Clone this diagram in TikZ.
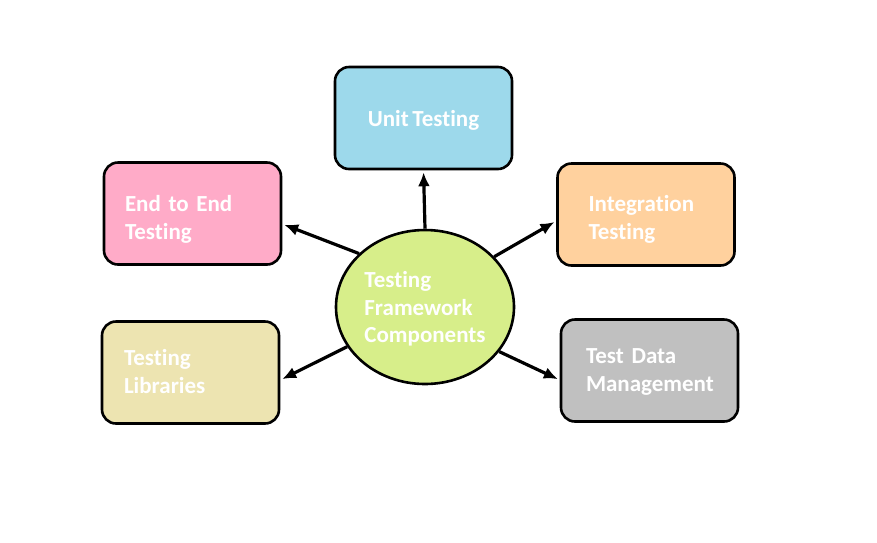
\documentclass[tikz,border=0pt]{standalone}
\usepackage{fontspec}
\setmainfont{Carlito}[Ligatures={NoCommon}, WordSpace=0.7]
\usetikzlibrary{arrows.meta,shapes.geometric}
\definecolor{cunit}{HTML}{9DD9EB}
\definecolor{cend}{HTML}{FFABC8}
\definecolor{cint}{HTML}{FFD19E}
\definecolor{clib}{HTML}{EDE4B1}
\definecolor{cdata}{HTML}{C0C0C0}
\definecolor{ccen}{HTML}{D7EE8A}
\tikzset{
  compbox/.style={draw=black, line width=2.6pt, rounded corners=14pt,
    minimum width=177pt, minimum height=102pt, inner ysep=0pt, text depth=20pt,
    font=\fontsize{23}{28}\selectfont\bfseries, text=white, align=left},
  centre/.style={ellipse, draw=black, line width=2.6pt, fill=ccen,
    minimum width=178pt, minimum height=154pt, inner sep=0pt, text depth=0pt,
    font=\fontsize{23}{27.5}\selectfont\bfseries, text=white, align=left},
  conn/.style={line width=3.2pt, -{Latex[length=14pt,width=12pt]}, shorten >=2pt}
}
\begin{document}
\begin{tikzpicture}[x=1pt,y=-1pt]
\useasboundingbox (0,0) rectangle (877,542);
\node[centre] (c) at (425,307) {Testing\\Framework\\Components};
\node[compbox, fill=cunit, align=center, text depth=0pt] (unit) at (423.5,118) {Unit Testing};
\node[compbox, fill=cend, text width=135pt, inner xsep=21pt] (e2e) at (192.5,213.5) {End to End\\Testing};
\node[compbox, fill=cint, text width=115pt, inner xsep=31pt, text depth=22pt] (integ) at (646,214.5) {Integration\\Testing};
\node[compbox, fill=clib, text width=133pt, inner xsep=22pt, text depth=30pt] (lib) at (190.5,372.5) {Testing\\Libraries};
\node[compbox, fill=cdata, text width=127pt, inner xsep=25pt, text depth=28pt] (data) at (649.5,370.5) {Test Data\\Management};
\draw[conn] (c.north) -- (unit.south);
\draw[conn] (c.141.5) -- ([yshift=-10.5pt]e2e.east);
\draw[conn] (c.36.5) -- ([yshift=-6.5pt]integ.west);
\draw[conn] (c.207.7) -- ([yshift=-7.5pt]lib.east);
\draw[conn] (c.-31.5) -- ([yshift=-9.5pt]data.west);
\end{tikzpicture}
\end{document}
